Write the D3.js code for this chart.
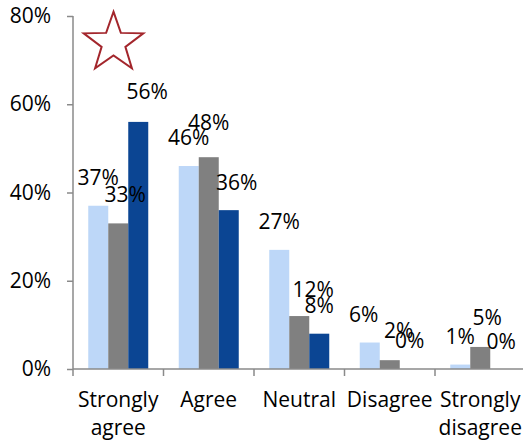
<!DOCTYPE html>
<html>
<head>
<meta charset="utf-8">
<script src="https://cdn.jsdelivr.net/npm/d3@7"></script>
<style>
  html, body { margin: 0; padding: 0; background: #fff; }
  svg { display: block; }
  text { font-family: "Open Sans", sans-serif; fill: #000; }
</style>
</head>
<body>
<svg id="chart" width="523" height="441"></svg>
<script>
const categories = ["Strongly agree", "Agree", "Neutral", "Disagree", "Strongly disagree"];
const categoryLines = [["Strongly", "agree"], ["Agree"], ["Neutral"], ["Disagree"], ["Strongly", "disagree"]];
const seriesNames = ["Series A", "Series B", "Series C"];
const seriesA = [0.37, 0.46, 0.27, 0.06, 0.01];
const seriesB = [0.33, 0.48, 0.12, 0.02, 0.05];
const seriesC = [0.56, 0.36, 0.08, 0.00, 0.00];
const yTicks = [0, 0.2, 0.4, 0.6, 0.8];

// layout: small label nudges (dx, dy in px) per series x category, to mimic the original label placement
const labelNudgeA = [[0, 0], [0, 0], [0, 0], [-6, 0], [0, 0]];
const labelNudgeB = [[7, -1], [0, -7], [14, 2], [9, -2], [7, -1]];
const labelNudgeC = [[9, -2], [8, 0], [0, 0], [0, 0], [1, 1]];
const colors = ["#BDD7F8", "#808080", "#0B4593"];

const series = [seriesA, seriesB, seriesC];
const nudges = [labelNudgeA, labelNudgeB, labelNudgeC];
const svg = d3.select("#chart");
const axisColor = "#8a8a8a";
const fontSize = 21;

const y = d3.scaleLinear().domain([0, 0.8]).range([369, 16]);
const x0 = d3.scaleBand().domain(categories).range([73, 73 + 5 * 90.5]).padding(0);
const groupW = x0.bandwidth() * 0.663;
const x1 = d3.scaleBand().domain(seriesNames)
  .range([(x0.bandwidth() - groupW) / 2, (x0.bandwidth() + groupW) / 2]).padding(0);

// bars
const groups = svg.append("g").selectAll("g").data(categories).join("g")
  .attr("transform", d => `translate(${x0(d)},0)`);

groups.each(function (cat, ci) {
  const g = d3.select(this);
  seriesNames.forEach((s, si) => {
    const v = series[si][ci];
    g.append("rect")
      .attr("x", x1(s))
      .attr("width", x1.bandwidth())
      .attr("y", y(v))
      .attr("height", y(0) - y(v))
      .attr("fill", colors[si]);
  });
});

// y axis
const yAxis = d3.axisLeft(y).tickValues(yTicks).tickSize(6).tickPadding(16)
  .tickFormat(d3.format(".0%"));
const yg = svg.append("g").attr("transform", "translate(73,0)").call(yAxis);
yg.select(".domain").attr("stroke", axisColor).attr("stroke-width", 1.5).attr("d", "M0,16V369");
yg.selectAll(".tick line").attr("stroke", axisColor).attr("stroke-width", 1.5);
yg.selectAll(".tick text").attr("font-size", fontSize).attr("font-family", "Open Sans").attr("fill", "#000");

// x axis
const xg = svg.append("g").attr("transform", "translate(0,369)");
xg.append("line").attr("x1", 73).attr("x2", 523).attr("y1", 0).attr("y2", 0)
  .attr("stroke", axisColor).attr("stroke-width", 1.5);
const boundaries = categories.map(c => x0(c)).concat([x0(categories[categories.length - 1]) + x0.bandwidth()]);
xg.selectAll("line.tk").data(boundaries).join("line").attr("class", "tk")
  .attr("x1", d => d).attr("x2", d => d).attr("y1", 0).attr("y2", 7)
  .attr("stroke", axisColor).attr("stroke-width", 1.5);

// x labels
categories.forEach((c, i) => {
  const t = svg.append("text")
    .attr("x", x0(c) + x0.bandwidth() / 2)
    .attr("y", 407)
    .attr("text-anchor", "middle")
    .attr("font-size", fontSize);
  categoryLines[i].forEach((ln, li) => {
    t.append("tspan").attr("x", x0(c) + x0.bandwidth() / 2).attr("dy", li === 0 ? 0 : 28).text(ln);
  });
});

// data labels
categories.forEach((c, ci) => {
  seriesNames.forEach((s, si) => {
    const v = series[si][ci];
    const [ndx, ndy] = nudges[si][ci];
    svg.append("text")
      .attr("x", x0(c) + x1(s) + x1.bandwidth() / 2 + ndx)
      .attr("y", y(v) - 28 + ndy)
      .attr("dy", "0.35em")
      .attr("text-anchor", "middle")
      .attr("font-size", fontSize)
      .text(d3.format(".0%")(v));
  });
});

// star
const cx = 113.5, cy = 43, R = 31.3, r = 12.5;
const pts = d3.range(10).map(k => {
  const a = -Math.PI / 2 + k * Math.PI / 5;
  const rad = k % 2 === 0 ? R : r;
  return [cx + rad * Math.cos(a), cy + rad * Math.sin(a)];
});
svg.append("path")
  .attr("d", d3.line()(pts) + "Z")
  .attr("fill", "#fff")
  .attr("stroke", "#A3262C")
  .attr("stroke-width", 2)
  .attr("stroke-linejoin", "miter");
</script>
</body>
</html>
